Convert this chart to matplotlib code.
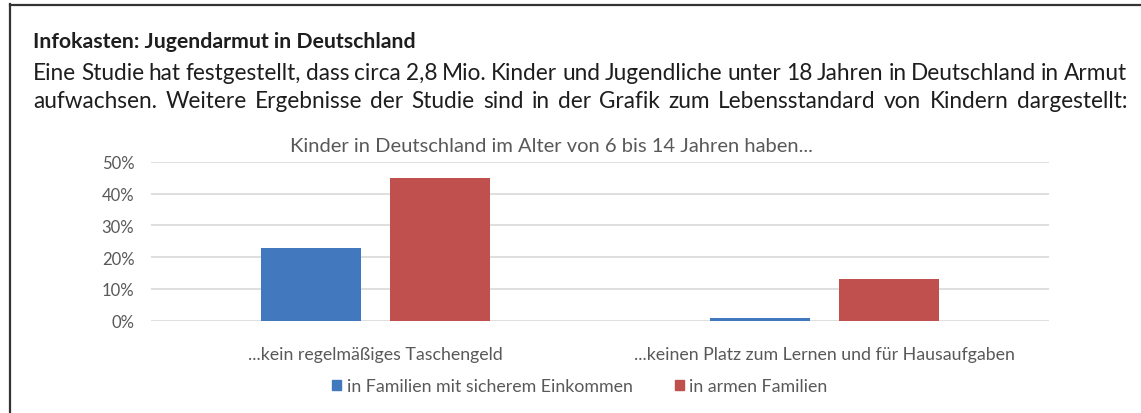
import matplotlib
matplotlib.use("Agg")
import matplotlib.pyplot as plt
from matplotlib.lines import Line2D
from matplotlib.patches import Patch
import numpy as np

# chart data
categories = ["...kein regelmäßiges Taschengeld", "...keinen Platz zum Lernen und für Hausaufgaben"]
series_names = ["in Familien mit sicherem Einkommen", "in armen Familien"]
sicher = [0.23, 0.01]
arm = [0.45, 0.13]
yticks = [0, 0.1, 0.2, 0.3, 0.4, 0.5]

heading = "Infokasten: Jugendarmut in Deutschland"
body_lines = [
    "Eine Studie hat festgestellt, dass circa 2,8 Mio. Kinder und Jugendliche unter 18 Jahren in Deutschland in Armut",
    "aufwachsen. Weitere Ergebnisse der Studie sind in der Grafik zum Lebensstandard von Kindern dargestellt:",
]
chart_title = "Kinder in Deutschland im Alter von 6 bis 14 Jahren haben..."

W, H = 1141, 414
fig = plt.figure(figsize=(W / 100, H / 100), dpi=100)
fig.patch.set_facecolor("white")

# box border (left and top edge visible)
fig.add_artist(Line2D([9.5 / W, 9.5 / W], [0, 1 - 5 / H], color="#333333", lw=1.6))
fig.add_artist(Line2D([9.5 / W, 1], [1 - 5.5 / H, 1 - 5.5 / H], color="#333333", lw=1.6))

fig.text(33 / W, 1 - 42 / H, heading, fontsize=15.3, fontweight="bold",
         family="Lato", color="#1e1e1e", va="center", ha="left")

# justified body text
fig.canvas.draw()
renderer = fig.canvas.get_renderer()
left, right = 33, 1127
for i, line in enumerate(body_lines):
    y = 1 - (73 + 29 * i) / H
    words = line.split(" ")
    objs = [fig.text(0, y, w, fontsize=16.3, family="Lato", color="#1e1e1e",
                     va="center", ha="left") for w in words]
    widths = [o.get_window_extent(renderer).width for o in objs]
    gap = (right - left - sum(widths)) / (len(words) - 1)
    x = left
    for o, w in zip(objs, widths):
        o.set_x(x / W)
        x += w + gap

# bar chart
ax = fig.add_axes([151 / W, 92.3 / H, 898 / W, 159 / H])
x = np.arange(len(categories))
bw = 0.223
off = 0.143
ax.bar(x - off, sicher, bw, color="#4178BE", label=series_names[0])
ax.bar(x + off, arm, bw, color="#C0504D", label=series_names[1])
ax.set_xlim(-0.5, 1.5)
ax.set_ylim(0, 0.5)
ax.set_yticks(yticks)
ax.set_yticklabels([f"{int(round(v * 100))}%" for v in yticks])
ax.set_xticks(x)
ax.set_xticklabels(categories)
ax.yaxis.grid(True, color="#D9D9D9", lw=1.2)
ax.set_axisbelow(True)
for s in ax.spines.values():
    s.set_visible(False)
ax.tick_params(axis="y", length=0, pad=12, labelsize=12, labelcolor="#595959")
ax.tick_params(axis="x", length=0, pad=18, labelsize=12.8, labelcolor="#595959")
for lbl in ax.get_xticklabels() + ax.get_yticklabels():
    lbl.set_family("Lato")

fig.text(551 / W, 1 - 147 / H, chart_title, fontsize=14.5, family="Lato",
         color="#595959", ha="center", va="center")

handles = [Patch(color="#4178BE"), Patch(color="#C0504D")]
leg = fig.legend(handles, series_names, loc="center", bbox_to_anchor=(580 / W, 1 - 387 / H),
                 ncol=2, frameon=False, handlelength=0.5, handleheight=0.5,
                 handletextpad=0.3, columnspacing=2.4, prop={"family": "Lato", "size": 12.8})
for t in leg.get_texts():
    t.set_color("#595959")

fig.savefig("out.png", dpi=100)
